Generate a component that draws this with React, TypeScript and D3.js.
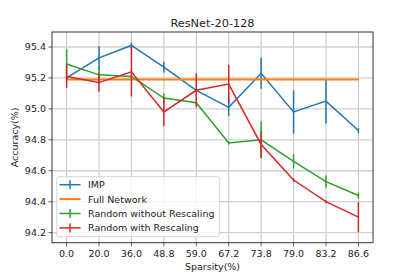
import React from "react";
import * as d3 from "d3";

const categories = ["0.0", "20.0", "36.0", "48.8", "59.0", "67.2", "73.8", "79.0", "83.2", "86.6"];
const yTicks = [94.2, 94.4, 94.6, 94.8, 95.0, 95.2, 95.4];

const impMean = [95.2, 95.33, 95.41, 95.27, 95.12, 95.01, 95.23, 94.98, 95.05, 94.86];
const impErr = [0.01, 0.075, 0.02, 0.035, 0.01, 0.055, 0.1, 0.14, 0.145, 0.015];
const fullMean = [95.19, 95.19, 95.19, 95.19, 95.19, 95.19, 95.19, 95.19, 95.19, 95.19];
const fullErr = [0.005, 0.005, 0.005, 0.005, 0.005, 0.005, 0.005, 0.005, 0.005, 0.005];
const noRescaleMean = [95.29, 95.22, 95.21, 95.07, 95.04, 94.78, 94.8, 94.66, 94.53, 94.44];
const noRescaleErr = [0.095, 0.05, 0.01, 0.03, 0.01, 0.01, 0.12, 0.045, 0.04, 0.02];
const rescaleMean = [95.21, 95.17, 95.24, 94.98, 95.12, 95.16, 94.77, 94.54, 94.4, 94.3];
const rescaleErr = [0.075, 0.06, 0.16, 0.09, 0.11, 0.125, 0.085, 0.01, 0.01, 0.097];

const seriesNames = ["IMP", "Full Network", "Random without Rescaling", "Random with Rescaling"];
const seriesColors = ["#1f77b4", "#ff7f0e", "#2ca02c", "#d62728"];

const series = [
  { name: seriesNames[0], color: seriesColors[0], mean: impMean, err: impErr, width: 1.5 },
  { name: seriesNames[1], color: seriesColors[1], mean: fullMean, err: fullErr, width: 2 },
  { name: seriesNames[2], color: seriesColors[2], mean: noRescaleMean, err: noRescaleErr, width: 1.5 },
  { name: seriesNames[3], color: seriesColors[3], mean: rescaleMean, err: rescaleErr, width: 1.5 },
];

const W = 415, H = 277;
const left = 52, right = 373, top = 32, bottom = 242.7;
const font = "DejaVu Sans, sans-serif";
const fs = 9.5;

export default function App() {
  const x = d3.scaleLinear().domain([-0.45, 9.45]).range([left, right]);
  const y = d3.scaleLinear().domain([94.135, 95.497]).range([bottom, top]);
  const line = d3.line<number>().x((_, i) => x(i)).y((d) => y(d));

  return (
    <svg width={W} height={H} style={{ position: "absolute", left: 0, top: 0, background: "#fff" }}>
      <rect x={0} y={0} width={W} height={H} fill="#fff" />
      {/* grid */}
      {categories.map((_, i) => (
        <line key={"gx" + i} x1={x(i)} x2={x(i)} y1={top} y2={bottom} stroke="#c8c8c8" strokeWidth={1.1} />
      ))}
      {yTicks.map((t) => (
        <line key={"gy" + t} x1={left} x2={right} y1={y(t)} y2={y(t)} stroke="#d0d0d0" strokeWidth={1.3} />
      ))}
      {/* series */}
      {series.map((s) => (
        <g key={s.name}>
          <path d={line(s.mean) || ""} fill="none" stroke={s.color} strokeWidth={s.width} />
          {s.mean.map((m, i) => (
            <line key={i} x1={x(i)} x2={x(i)} y1={y(m - s.err[i])} y2={y(m + s.err[i])} stroke={s.color} strokeWidth={1.5} />
          ))}
        </g>
      ))}
      {/* spines */}
      <rect x={left} y={top} width={right - left} height={bottom - top} fill="none" stroke="#333" strokeWidth={1} />
      {/* x ticks */}
      {categories.map((c, i) => (
        <g key={"xt" + i}>
          <line x1={x(i)} x2={x(i)} y1={bottom} y2={bottom + 3.5} stroke="#333" strokeWidth={0.8} />
          <text x={x(i)} y={bottom + 14} textAnchor="middle" fontFamily={font} fontSize={fs} fill="#222">{c}</text>
        </g>
      ))}
      {/* y ticks */}
      {yTicks.map((t) => (
        <g key={"yt" + t}>
          <line x1={left - 3.5} x2={left} y1={y(t)} y2={y(t)} stroke="#333" strokeWidth={0.8} />
          <text x={left - 6} y={y(t) + 3.4} textAnchor="end" fontFamily={font} fontSize={fs} fill="#222">{t.toFixed(1)}</text>
        </g>
      ))}
      <text x={(left + right) / 2} y={27} textAnchor="middle" fontFamily={font} fontSize={11.3} fill="#222">ResNet-20-128</text>
      <text x={(left + right) / 2} y={269.5} textAnchor="middle" fontFamily={font} fontSize={fs} fill="#222">Sparsity(%)</text>
      <text transform={`translate(18,${(top + bottom) / 2}) rotate(-90)`} textAnchor="middle" fontFamily={font} fontSize={fs} fill="#222">Accuracy(%)</text>
      {/* legend */}
      <g>
        <rect x={56.7} y={176.7} width={162.6} height={60} rx={2} fill="#fff" fillOpacity={0.8} stroke="#ccc" strokeWidth={0.8} />
        {series.map((s, i) => {
          const ly = 184.7 + i * 14.4;
          return (
            <g key={"lg" + i}>
              <line x1={59.5} x2={80.5} y1={ly} y2={ly} stroke={s.color} strokeWidth={s.width} />
              {i !== 1 && <line x1={70} x2={70} y1={ly - 4.5} y2={ly + 4.5} stroke={s.color} strokeWidth={1.5} />}
              <text x={88} y={ly + 3.4} fontFamily={font} fontSize={fs} fill="#222">{s.name}</text>
            </g>
          );
        })}
      </g>
    </svg>
  );
}
